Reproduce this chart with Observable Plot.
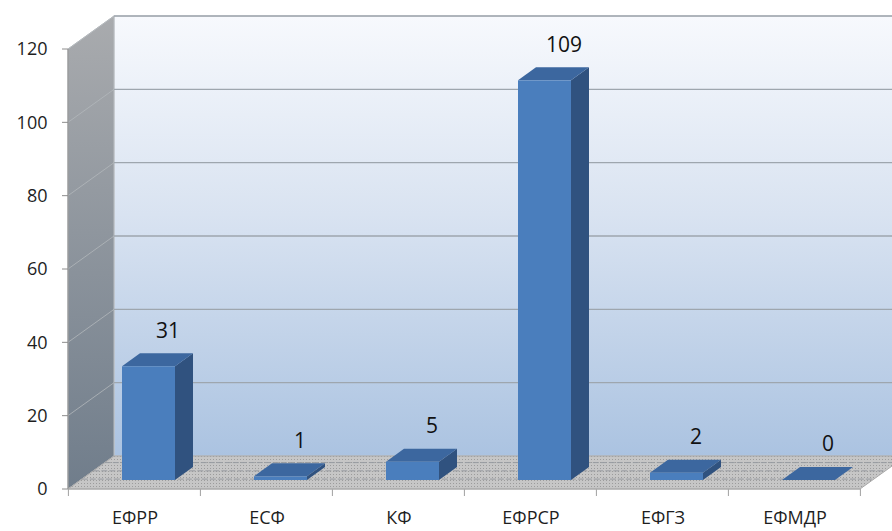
<!DOCTYPE html>
<html>
<head>
<meta charset="utf-8">
<script src="https://cdn.jsdelivr.net/npm/d3@7"></script>
<script src="https://cdn.jsdelivr.net/npm/@observablehq/plot@0.6"></script>
<style>
  html, body { margin: 0; padding: 0; background: #fff; }
</style>
</head>
<body>
<div id="chart"></div>
<script>
const categories = ["ЕФРР", "ЕСФ", "КФ", "ЕФРСР", "ЕФГЗ", "ЕФМДР"];
const values = [31, 1, 5, 109, 2, 0];
const yTicks = [0, 20, 40, 60, 80, 100, 120];

const data = categories.map((c, i) => ({cat: c, value: values[i]}));

// 3D projection offsets (style)
const WALL_DX = 46, WALL_DY = -33;   // depth of the walls/floor
const FRONT_DX = 14, FRONT_DY = -9;  // bar front face offset inside floor
const BAR_DX = 18, BAR_DY = -13;     // depth of bars

const frameMark = (index, scales, values_, dims) => {
  const {x, y} = scales;
  const g = d3.create("svg:g");
  const X0 = dims.marginLeft, X1 = dims.width - dims.marginRight;
  const Y0 = y(0), Ytop = y(yTicks[yTicks.length - 1]);
  const defs = g.append("defs");
  const wg = defs.append("linearGradient").attr("id", "wallGrad")
    .attr("x1", 0).attr("y1", 0).attr("x2", 0).attr("y2", 1);
  wg.append("stop").attr("offset", "0%").attr("stop-color", "#f7f9fd");
  wg.append("stop").attr("offset", "45%").attr("stop-color", "#d9e3f1");
  wg.append("stop").attr("offset", "100%").attr("stop-color", "#abc3e1");
  const sg = defs.append("linearGradient").attr("id", "sideGrad")
    .attr("x1", 0).attr("y1", 0).attr("x2", 0).attr("y2", 1);
  sg.append("stop").attr("offset", "0%").attr("stop-color", "#a9abae");
  sg.append("stop").attr("offset", "100%").attr("stop-color", "#707d8b");
  const pat = defs.append("pattern").attr("id", "floorPat")
    .attr("patternUnits", "userSpaceOnUse").attr("width", 3).attr("height", 3);
  pat.append("rect").attr("width", 3).attr("height", 3).attr("fill", "#c6c6c6");
  pat.append("rect").attr("width", 1).attr("height", 1).attr("fill", "#9c9c9c");

  // back wall
  g.append("rect")
    .attr("x", X0 + WALL_DX).attr("y", Ytop + WALL_DY)
    .attr("width", dims.width - (X0 + WALL_DX) + 2)
    .attr("height", Y0 - Ytop)
    .attr("fill", "url(#wallGrad)").attr("stroke", "#c4c8cc").attr("stroke-width", 1);
  // side wall
  g.append("path")
    .attr("d", `M${X0},${Ytop}L${X0 + WALL_DX},${Ytop + WALL_DY}L${X0 + WALL_DX},${Y0 + WALL_DY}L${X0},${Y0}Z`)
    .attr("fill", "url(#sideGrad)").attr("stroke", "#b8bcc0").attr("stroke-width", 1);
  // gridlines
  for (const t of yTicks) {
    if (t === 0) continue;
    const yy = y(t);
    g.append("line")
      .attr("x1", X0 + WALL_DX).attr("x2", dims.width)
      .attr("y1", yy + WALL_DY).attr("y2", yy + WALL_DY)
      .attr("stroke", "#9ea6ae").attr("stroke-width", 1.3);
    g.append("line")
      .attr("x1", X0).attr("x2", X0 + WALL_DX)
      .attr("y1", yy).attr("y2", yy + WALL_DY)
      .attr("stroke", "#b3b7bb").attr("stroke-width", 0.8);
  }
  // floor
  g.append("path")
    .attr("d", `M${X0},${Y0}L${X0 + WALL_DX},${Y0 + WALL_DY}L${X1 + WALL_DX},${Y0 + WALL_DY}L${X1},${Y0}Z`)
    .attr("fill", "url(#floorPat)").attr("stroke", "#a8a8a8").attr("stroke-width", 1);
  for (const f of [0.2, 0.45, 0.7]) {
    const yy = Y0 + WALL_DY * (1 - f);
    g.append("line")
      .attr("x1", X0 + WALL_DX * (1 - f)).attr("x2", X1 + WALL_DX * (1 - f))
      .attr("y1", yy).attr("y2", yy)
      .attr("stroke", "#979ba0").attr("stroke-width", 1).attr("stroke-dasharray", "6,2");
  }
  // y axis line and ticks
  g.append("line").attr("x1", X0).attr("x2", X0).attr("y1", Ytop).attr("y2", Y0)
    .attr("stroke", "#8c8c8c").attr("stroke-width", 1);
  for (const t of yTicks) {
    g.append("line").attr("x1", X0 - 6).attr("x2", X0).attr("y1", y(t)).attr("y2", y(t))
      .attr("stroke", "#8c8c8c").attr("stroke-width", 1);
  }
  // x axis boundary ticks
  const step = x.step();
  const start = x(categories[0]) - step * x.paddingInner() / 2;
  for (let i = 0; i <= categories.length; i++) {
    const bx = start + i * step;
    g.append("line").attr("x1", bx).attr("x2", bx).attr("y1", Y0).attr("y2", Y0 + 7)
      .attr("stroke", "#a0a0a0").attr("stroke-width", 1);
  }
  g.append("line").attr("x1", X0).attr("x2", X1).attr("y1", Y0).attr("y2", Y0)
    .attr("stroke", "#a8a8a8").attr("stroke-width", 1);
  return g.node();
};

const barDepthMark = (index, scales) => {
  const {x, y} = scales;
  const g = d3.create("svg:g");
  const bw = x.bandwidth();
  for (const d of data) {
    const x0 = x(d.cat) + FRONT_DX, x1 = x0 + bw;
    const yt = y(d.value) + FRONT_DY, yb = y(0) + FRONT_DY;
    g.append("path")
      .attr("d", `M${x1},${yt}L${x1 + BAR_DX},${yt + BAR_DY}L${x1 + BAR_DX},${yb + BAR_DY}L${x1},${yb}Z`)
      .attr("fill", "#30527f");
    g.append("path")
      .attr("d", `M${x0},${yt}L${x0 + BAR_DX},${yt + BAR_DY}L${x1 + BAR_DX},${yt + BAR_DY}L${x1},${yt}Z`)
      .attr("fill", "#3c679f");
  }
  return g.node();
};

const chart = Plot.plot({
  width: 892,
  height: 531,
  marginLeft: 68,
  marginRight: 32,
  marginTop: 49,
  marginBottom: 42,
  style: {fontFamily: "'Open Sans', sans-serif", fontSize: "18px", color: "#1e1e1e", background: "#ffffff"},
  x: {domain: categories, paddingInner: 0.6, paddingOuter: 0.3, tickSize: 0, tickPadding: 22, label: null},
  y: {domain: [0, 120], ticks: yTicks, tickSize: 0, tickPadding: 21, label: null},
  marks: [
    frameMark,
    barDepthMark,
    Plot.barY(data, {x: "cat", y: "value", fill: "#4a7ebd", dx: FRONT_DX, dy: FRONT_DY}),
    Plot.text(data, {x: "cat", y: "value", text: d => String(d.value), dx: 33, dy: -45,
      fontSize: 21, fill: "#111"})
  ]
});
document.getElementById("chart").appendChild(chart);
</script>
</body>
</html>
